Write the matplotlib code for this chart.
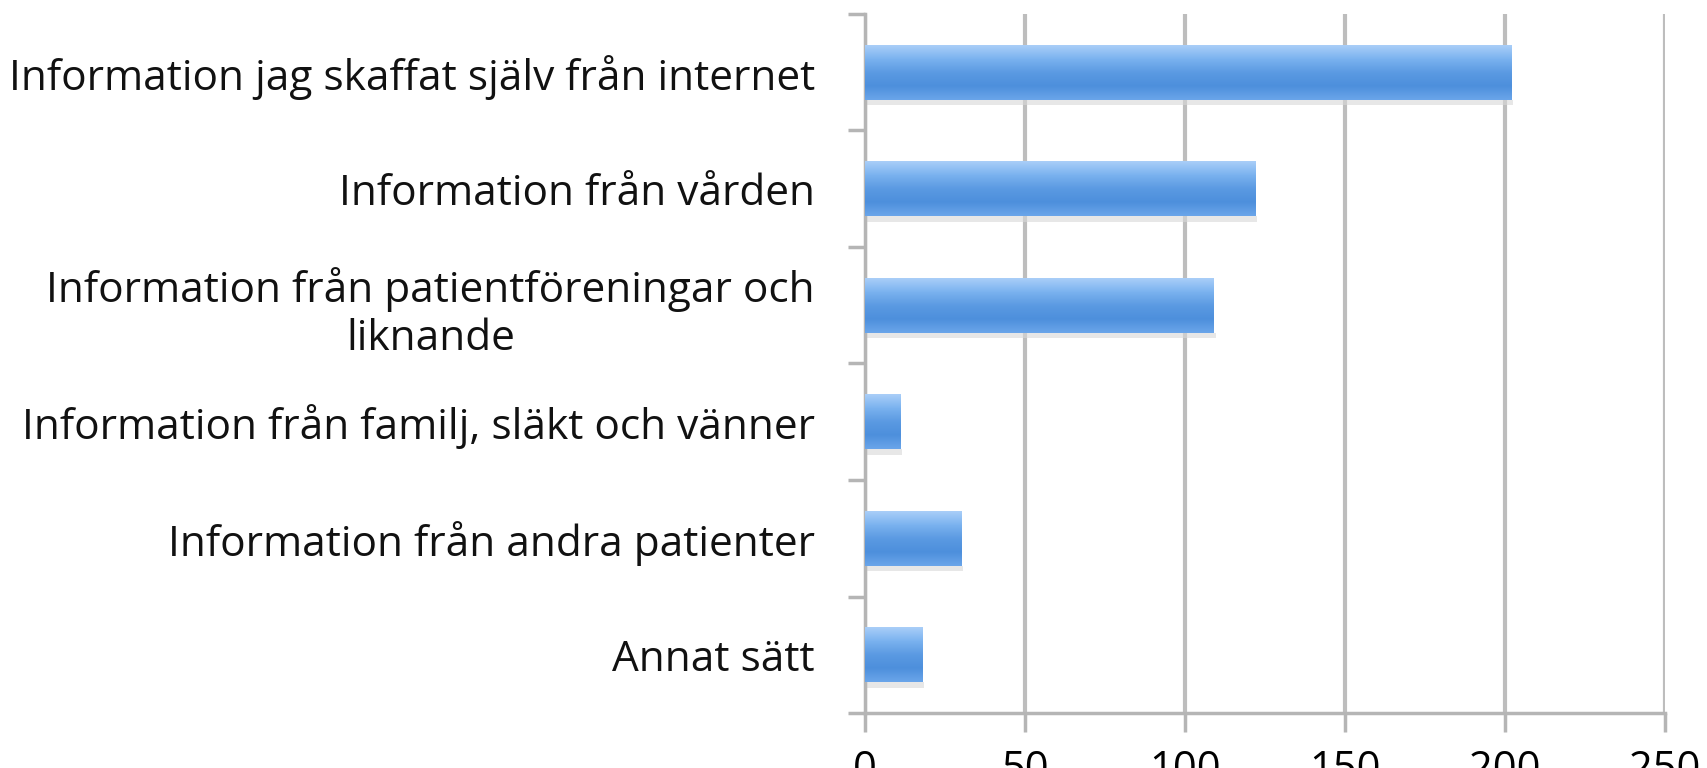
import matplotlib
matplotlib.use('Agg')
import matplotlib.pyplot as plt
import numpy as np

categories = ['Information jag skaffat själv från internet',
              'Information från vården',
              'Information från patientföreningar och\nliknande',
              'Information från familj, släkt och vänner',
              'Information från andra patienter',
              'Annat sätt']
values = [202, 122, 109, 11, 30, 18]
xticks = [0, 50, 100, 150, 200, 250]

plt.rcParams['font.family'] = ['Open Sans', 'DejaVu Sans']

fig = plt.figure(figsize=(17.08, 7.68), dpi=100)
ax = fig.add_axes([0.5064, 0.0716, 0.4684, 0.9102])

ypos = np.arange(len(categories))
bh = 0.47
bars = ax.barh(ypos, values, height=bh, color='#6aa5ea', zorder=3)

# gradient fill on each bar
grad = np.linspace(0, 1, 64).reshape(-1, 1)
cmap = matplotlib.colors.LinearSegmentedColormap.from_list(
    'bar', ['#a9cef8', '#7ab2ef', '#5b9ae2', '#4d8fdc', '#6aa5ea'])
for b in bars:
    x0, y0 = b.get_x(), b.get_y()
    w, h = b.get_width(), b.get_height()
    ax.imshow(grad, extent=(x0, x0 + w, y0 + h, y0), cmap=cmap,
              aspect='auto', zorder=4)
    # soft shadow
    ax.add_patch(plt.Rectangle((x0, y0 + h), w + 0.6, 0.05,
                               color='#d8d8d8', alpha=0.6, zorder=2, lw=0))

ax.set_xlim(0, 250)
ax.set_ylim(len(categories) - 0.5, -0.5)
ax.set_xticks(xticks)
ax.set_xticklabels([str(t) for t in xticks], fontsize=30)
ax.tick_params(axis='x', length=14, width=2.5, color='#b5b5b5', pad=12)

ax.set_yticks(ypos)
ax.set_yticklabels(categories, fontsize=30.5, color='#111111',
                   multialignment='center')
ax.tick_params(axis='y', length=0, pad=36)
ax.set_yticks(np.arange(-0.5, len(categories)), minor=True)
ax.tick_params(axis='y', which='minor', length=12, width=2.5, color='#b5b5b5')

ax.grid(axis='x', color='#bdbdbd', linewidth=3, zorder=0)
for s in ['top', 'right']:
    ax.spines[s].set_visible(False)
for s in ['left', 'bottom']:
    ax.spines[s].set_color('#b5b5b5')
    ax.spines[s].set_linewidth(2.5)

fig.savefig('out.png', dpi=100)
